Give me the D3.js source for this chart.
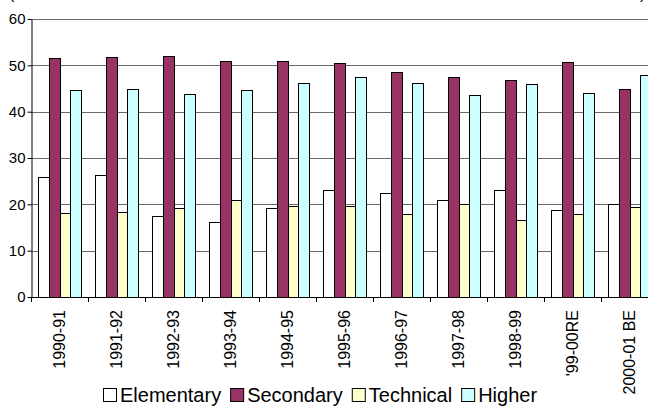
<!DOCTYPE html>
<html>
<head>
<meta charset="utf-8">
<script src="https://cdn.jsdelivr.net/npm/d3@7/dist/d3.min.js"></script>
<style>
  html, body { margin: 0; padding: 0; background: #fff; }
  svg { display: block; }
  text { font-family: "Liberation Sans", Arial, sans-serif; fill: #000; }
</style>
</head>
<body>
<svg id="chart" width="648" height="410"></svg>
<script>
// Years of the series
const categories = ["1990-91", "1991-92", "1992-93", "1993-94", "1994-95", "1995-96",
                    "1996-97", "1997-98", "1998-99", "'99-00RE", "2000-01 BE"];

// Share by level of education (%)
const elementary = [25.9, 26.3, 17.4, 16.2, 19.2, 23.0, 22.5, 21.0, 23.0, 18.8, 20.1];
const secondary  = [51.5, 51.8, 52.0, 51.0, 51.0, 50.4, 48.6, 47.5, 46.9, 50.7, 44.8];
const technical  = [18.2, 18.4, 19.3, 20.9, 19.7, 19.6, 17.9, 20.1, 16.7, 17.9, 19.4];
const higher     = [44.7, 45.0, 43.9, 44.6, 46.2, 47.5, 46.2, 43.7, 46.0, 44.1, 48.0];

const seriesNames = ["Elementary", "Secondary", "Technical", "Higher"];
const yTicks = [0, 10, 20, 30, 40, 50, 60];

const seriesValues = [elementary, secondary, technical, higher];
const colors = ["#ffffff", "#993366", "#ffffcc", "#ccffff"];

const svg = d3.select("#chart");
svg.append("rect").attr("width", 648).attr("height", 410).attr("fill", "#fff");

const plotLeft = 31, plotRight = 658, plotTop = 19, plotBottom = 297;

const x0 = d3.scaleBand().domain(categories).range([plotLeft, plotRight]).padding(0);
const groupPad = 7.3;
const x1 = d3.scaleBand().domain(seriesNames)
  .range([groupPad, x0.bandwidth() - groupPad]).padding(0);
const y = d3.scaleLinear().domain([0, 60]).range([plotBottom, plotTop]);

// heading line above the plot, running off the top edge
svg.append("text").attr("x", 9).attr("y", -1).attr("font-size", 16).text("(");
svg.append("text").attr("x", 640).attr("y", -1).attr("font-size", 16).text(")");

// horizontal gridlines
svg.append("g").selectAll("line").data(yTicks.filter(t => t > 0)).join("line")
  .attr("x1", plotLeft).attr("x2", 648)
  .attr("y1", d => Math.round(y(d)) + 0.5).attr("y2", d => Math.round(y(d)) + 0.5)
  .attr("stroke", "#6a6a6a").attr("stroke-width", 1);

// bars
const rows = categories.map((c, i) => ({ cat: c, vals: seriesValues.map(s => s[i]) }));
const groups = svg.append("g").selectAll("g").data(rows).join("g")
  .attr("transform", d => `translate(${x0(d.cat)},0)`);
groups.selectAll("rect")
  .data(d => d.vals.map((v, k) => ({ key: seriesNames[k], v, k })))
  .join("rect")
  .attr("x", d => Math.round(x1(d.key)) + 0.5)
  .attr("y", d => Math.round(y(d.v)) + 0.5)
  .attr("width", Math.round(x1.bandwidth()))
  .attr("height", d => Math.round(y(0)) - Math.round(y(d.v)))
  .attr("fill", d => colors[d.k])
  .attr("stroke", "#000").attr("stroke-width", 1);

// y axis
const yAxis = d3.axisLeft(y).tickValues(yTicks).tickSize(4).tickSizeOuter(0).tickPadding(2);
const yg = svg.append("g").attr("transform", `translate(${plotLeft + 0.5},0)`).call(yAxis);
yg.select(".domain").attr("stroke", "#000");
yg.selectAll(".tick line").attr("stroke", "#000");
yg.selectAll(".tick text").attr("font-size", 15)
  .attr("font-family", "'Liberation Sans', Arial, sans-serif").attr("fill", "#000");

// x axis baseline and category separators
svg.append("line").attr("x1", plotLeft).attr("x2", 648)
  .attr("y1", plotBottom + 0.5).attr("y2", plotBottom + 0.5).attr("stroke", "#000");
svg.append("g").selectAll("line").data(categories).join("line")
  .attr("x1", d => Math.round(x0(d)) + 0.5).attr("x2", d => Math.round(x0(d)) + 0.5)
  .attr("y1", plotBottom).attr("y2", plotBottom + 5).attr("stroke", "#000");

// rotated category labels
svg.append("g").selectAll("text").data(categories).join("text")
  .attr("transform", d => `translate(${x0(d) + x0.bandwidth() / 2},310) rotate(-90)`)
  .attr("text-anchor", "end").attr("dy", "0.36em")
  .attr("font-size", 16).text(d => d);

// legend
const legend = svg.append("g");
let lx = 103;
seriesNames.forEach((name, k) => {
  legend.append("rect").attr("x", lx + 0.5).attr("y", 388.5).attr("width", 13).attr("height", 13)
    .attr("fill", colors[k]).attr("stroke", "#000");
  const t = legend.append("text").attr("x", lx + 17).attr("y", 402)
    .attr("font-size", 20).text(name);
  lx += 17 + t.node().getComputedTextLength() + 9;
});
</script>
</body>
</html>
